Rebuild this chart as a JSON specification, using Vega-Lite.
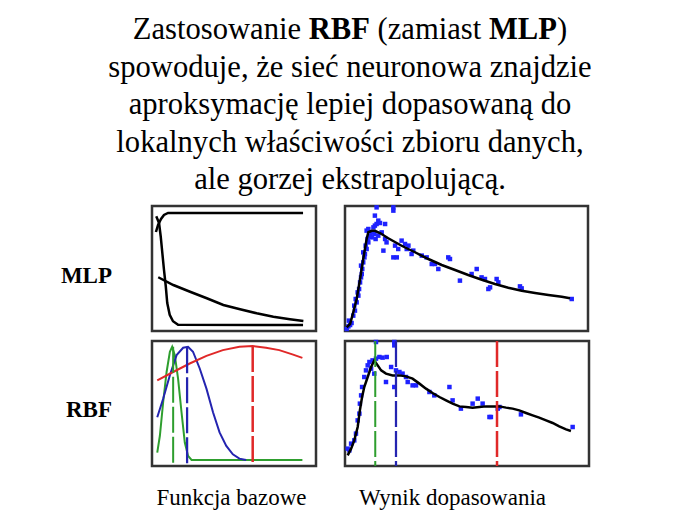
{
  "$schema": "https://vega.github.io/schema/vega-lite/v6.json",
  "padding": 0,
  "background": "white",
  "bounds": "flush",
  "columns": 3,
  "spacing": {"row": 10, "column": 29},
  "config": {"view": {"stroke": null}, "font": "Liberation Serif", "text": {"font": "Liberation Serif"}},
  "datasets": {
    "title": [
      {"line": 2, "text": "spowoduje, że sieć neuronowa znajdzie"},
      {"line": 3, "text": "aproksymację lepiej dopasowaną do"},
      {"line": 4, "text": "lokalnych właściwości zbioru danych,"},
      {"line": 5, "text": "ale gorzej ekstrapolującą."}
    ],
    "head": [
      {"line": 1, "part": "Zastosowanie"},
      {"line": 1, "part": "RBF"},
      {"line": 1, "part": "(zamiast"},
      {"line": 1, "part": "MLP"},
      {"line": 1, "part": ")"}
    ],
    "tl": [
      {"curve": "a", "x": 2.4, "y": 79.2}, {"curve": "a", "x": 3.7, "y": 84.8}, {"curve": "a", "x": 5.5, "y": 89.6}, {"curve": "a", "x": 7.3, "y": 92.8}, {"curve": "a", "x": 9.8, "y": 94.4}, {"curve": "a", "x": 92.1, "y": 94.4},
      {"curve": "b", "x": 2.6, "y": 91.8}, {"curve": "b", "x": 4.3, "y": 86.4}, {"curve": "b", "x": 5.3, "y": 75.8}, {"curve": "b", "x": 6.3, "y": 62.4}, {"curve": "b", "x": 7.3, "y": 49.0}, {"curve": "b", "x": 8.4, "y": 35.8}, {"curve": "b", "x": 9.3, "y": 22.4}, {"curve": "b", "x": 10.8, "y": 13.0}, {"curve": "b", "x": 12.8, "y": 7.8}, {"curve": "b", "x": 15.9, "y": 5.0}, {"curve": "b", "x": 92.1, "y": 4.8},
      {"curve": "c", "x": 3.8, "y": 43.0}, {"curve": "c", "x": 13.0, "y": 36.8}, {"curve": "c", "x": 23.2, "y": 31.4}, {"curve": "c", "x": 33.4, "y": 26.2}, {"curve": "c", "x": 43.5, "y": 20.8}, {"curve": "c", "x": 53.7, "y": 17.4}, {"curve": "c", "x": 63.8, "y": 14.2}, {"curve": "c", "x": 74.0, "y": 11.4}, {"curve": "c", "x": 84.1, "y": 9.4}, {"curve": "c", "x": 92.3, "y": 8.0}
    ],
    "bl": [
      {"series": "g", "x": 3.2, "y": 10.7}, {"series": "g", "x": 4.8, "y": 24.2}, {"series": "g", "x": 6.8, "y": 51.0}, {"series": "g", "x": 8.9, "y": 75.2}, {"series": "g", "x": 10.9, "y": 91.4}, {"series": "g", "x": 12.3, "y": 95.4}, {"series": "g", "x": 13.9, "y": 88.7}, {"series": "g", "x": 15.9, "y": 69.9}, {"series": "g", "x": 18.0, "y": 43.0}, {"series": "g", "x": 20.0, "y": 18.8}, {"series": "g", "x": 22.0, "y": 8.1}, {"series": "g", "x": 24.1, "y": 4.8}, {"series": "g", "x": 91.7, "y": 4.8},
      {"series": "b", "x": 3.2, "y": 39.0}, {"series": "b", "x": 6.8, "y": 53.8}, {"series": "b", "x": 10.9, "y": 72.6}, {"series": "b", "x": 15.0, "y": 88.7}, {"series": "b", "x": 19.0, "y": 94.6}, {"series": "b", "x": 22.0, "y": 95.4}, {"series": "b", "x": 25.0, "y": 91.4}, {"series": "b", "x": 29.1, "y": 78.0}, {"series": "b", "x": 33.2, "y": 61.9}, {"series": "b", "x": 37.2, "y": 43.0}, {"series": "b", "x": 41.2, "y": 26.9}, {"series": "b", "x": 45.3, "y": 16.1}, {"series": "b", "x": 49.3, "y": 9.4}, {"series": "b", "x": 53.3, "y": 5.9}, {"series": "b", "x": 57.4, "y": 4.8},
      {"series": "r", "x": 3.2, "y": 68.5}, {"series": "r", "x": 12.9, "y": 75.2}, {"series": "r", "x": 23.0, "y": 82.0}, {"series": "r", "x": 33.2, "y": 88.1}, {"series": "r", "x": 43.2, "y": 92.7}, {"series": "r", "x": 53.3, "y": 95.4}, {"series": "r", "x": 61.4, "y": 96.0}, {"series": "r", "x": 69.5, "y": 94.6}, {"series": "r", "x": 77.6, "y": 92.7}, {"series": "r", "x": 85.6, "y": 89.3}, {"series": "r", "x": 91.7, "y": 86.5}
    ],
    "bl_centres": [
      {"series": "g", "x": 12.9, "top": 95.4, "bottom": 0},
      {"series": "b", "x": 21.4, "top": 95.0, "bottom": 0},
      {"series": "r", "x": 61.4, "top": 96.0, "bottom": 0}
    ],
    "tr_fit": [
      {"x": 0.7, "y": 3.0}, {"x": 2.1, "y": 5.6}, {"x": 3.4, "y": 15.0}, {"x": 4.8, "y": 25.6}, {"x": 6.2, "y": 41.6}, {"x": 7.5, "y": 57.6}, {"x": 8.9, "y": 73.6}, {"x": 9.6, "y": 79.0}, {"x": 11.0, "y": 80.2}, {"x": 12.3, "y": 80.2}, {"x": 14.4, "y": 78.4}, {"x": 17.8, "y": 74.2}, {"x": 23.3, "y": 68.2}, {"x": 28.8, "y": 63.0}, {"x": 34.3, "y": 57.6}, {"x": 39.8, "y": 52.8}, {"x": 45.3, "y": 48.8}, {"x": 50.7, "y": 44.8}, {"x": 56.3, "y": 41.0}, {"x": 61.7, "y": 37.6}, {"x": 67.2, "y": 34.6}, {"x": 72.7, "y": 32.2}, {"x": 78.2, "y": 30.4}, {"x": 83.7, "y": 28.8}, {"x": 89.2, "y": 27.4}, {"x": 92.6, "y": 26.2}
    ],
    "tr_pts": [
      {"x": 0.7, "y": 1.6}, {"x": 1.4, "y": 3.7}, {"x": 2.1, "y": 4.8}, {"x": 2.7, "y": 6.4}, {"x": 1.6, "y": 8.3}, {"x": 3.4, "y": 12.3}, {"x": 4.1, "y": 16.3}, {"x": 3.8, "y": 20.3}, {"x": 4.8, "y": 22.9}, {"x": 4.4, "y": 25.6}, {"x": 5.5, "y": 28.3}, {"x": 5.2, "y": 30.9}, {"x": 5.8, "y": 33.6}, {"x": 6.2, "y": 38.9}, {"x": 6.6, "y": 42.9}, {"x": 6.9, "y": 45.6}, {"x": 7.1, "y": 49.6}, {"x": 6.6, "y": 52.3}, {"x": 7.5, "y": 54.9}, {"x": 8.0, "y": 58.9}, {"x": 8.2, "y": 61.6}, {"x": 7.5, "y": 62.9}, {"x": 8.9, "y": 65.6}, {"x": 8.5, "y": 68.3}, {"x": 9.6, "y": 70.9}, {"x": 9.3, "y": 73.6}, {"x": 10.3, "y": 76.3}, {"x": 11.0, "y": 78.9}, {"x": 8.9, "y": 80.3}, {"x": 9.6, "y": 81.6}, {"x": 11.7, "y": 82.9}, {"x": 12.3, "y": 84.3}, {"x": 13.0, "y": 85.6}, {"x": 14.4, "y": 86.4}, {"x": 16.5, "y": 85.6}, {"x": 13.7, "y": 88.3}, {"x": 12.3, "y": 92.3}, {"x": 13.0, "y": 98.9}, {"x": 19.9, "y": 98.9}, {"x": 19.9, "y": 96.3}, {"x": 11.0, "y": 74.9}, {"x": 12.1, "y": 77.6}, {"x": 12.6, "y": 73.6}, {"x": 13.7, "y": 76.3}, {"x": 15.1, "y": 78.9}, {"x": 16.5, "y": 73.6}, {"x": 17.1, "y": 70.9}, {"x": 15.8, "y": 64.3}, {"x": 19.9, "y": 58.9}, {"x": 21.3, "y": 58.9}, {"x": 20.6, "y": 68.3}, {"x": 21.9, "y": 65.6}, {"x": 23.3, "y": 72.3}, {"x": 24.7, "y": 69.6}, {"x": 26.1, "y": 68.3}, {"x": 25.4, "y": 65.6}, {"x": 27.4, "y": 61.6}, {"x": 28.1, "y": 64.3}, {"x": 31.6, "y": 60.3}, {"x": 33.6, "y": 58.9}, {"x": 35.7, "y": 53.6}, {"x": 37.0, "y": 53.6}, {"x": 38.4, "y": 49.6}, {"x": 42.5, "y": 58.9}, {"x": 43.2, "y": 57.6}, {"x": 47.3, "y": 40.3}, {"x": 52.1, "y": 45.6}, {"x": 54.2, "y": 49.6}, {"x": 56.2, "y": 42.9}, {"x": 57.6, "y": 41.6}, {"x": 59.0, "y": 33.6}, {"x": 59.7, "y": 34.9}, {"x": 62.4, "y": 41.6}, {"x": 63.1, "y": 38.9}, {"x": 72.0, "y": 35.7}, {"x": 72.7, "y": 34.1}, {"x": 93.3, "y": 25.6}
    ],
    "br_fit": [
      {"x": 1.1, "y": 8.5}, {"x": 2.5, "y": 13.9}, {"x": 3.8, "y": 20.5}, {"x": 5.2, "y": 31.2}, {"x": 6.1, "y": 44.5}, {"x": 7.0, "y": 55.2}, {"x": 7.9, "y": 63.2}, {"x": 9.3, "y": 71.2}, {"x": 10.7, "y": 79.2}, {"x": 12.0, "y": 84.5}, {"x": 13.4, "y": 80.5}, {"x": 14.8, "y": 76.5}, {"x": 16.8, "y": 73.9}, {"x": 19.5, "y": 72.5}, {"x": 22.3, "y": 72.5}, {"x": 25.0, "y": 71.7}, {"x": 27.7, "y": 69.9}, {"x": 30.5, "y": 65.9}, {"x": 33.2, "y": 61.9}, {"x": 35.9, "y": 58.4}, {"x": 38.7, "y": 55.2}, {"x": 41.4, "y": 52.5}, {"x": 44.1, "y": 49.9}, {"x": 46.9, "y": 47.7}, {"x": 49.6, "y": 47.2}, {"x": 52.3, "y": 46.7}, {"x": 55.1, "y": 47.2}, {"x": 57.8, "y": 47.7}, {"x": 60.5, "y": 47.7}, {"x": 63.3, "y": 47.7}, {"x": 66.0, "y": 46.7}, {"x": 68.7, "y": 45.9}, {"x": 71.4, "y": 44.5}, {"x": 74.2, "y": 42.4}, {"x": 76.9, "y": 40.5}, {"x": 79.6, "y": 38.7}, {"x": 82.4, "y": 36.5}, {"x": 85.1, "y": 34.4}, {"x": 87.8, "y": 31.7}, {"x": 90.6, "y": 29.3}, {"x": 92.6, "y": 28.0}
    ],
    "br_pts": [
      {"x": 1.1, "y": 13.9}, {"x": 1.8, "y": 12.5}, {"x": 2.5, "y": 17.9}, {"x": 3.8, "y": 20.5}, {"x": 4.5, "y": 25.9}, {"x": 5.2, "y": 36.5}, {"x": 5.9, "y": 41.9}, {"x": 6.1, "y": 49.9}, {"x": 6.6, "y": 56.5}, {"x": 7.0, "y": 63.2}, {"x": 7.9, "y": 71.2}, {"x": 8.6, "y": 76.5}, {"x": 9.3, "y": 80.5}, {"x": 10.0, "y": 83.2}, {"x": 11.3, "y": 84.5}, {"x": 12.7, "y": 85.9}, {"x": 14.1, "y": 87.2}, {"x": 15.4, "y": 86.7}, {"x": 17.1, "y": 87.2}, {"x": 12.7, "y": 99.2}, {"x": 20.2, "y": 99.2}, {"x": 20.2, "y": 96.5}, {"x": 10.7, "y": 77.9}, {"x": 12.0, "y": 73.9}, {"x": 18.9, "y": 79.2}, {"x": 20.9, "y": 76.5}, {"x": 22.3, "y": 75.2}, {"x": 23.6, "y": 73.9}, {"x": 25.0, "y": 71.2}, {"x": 25.7, "y": 67.2}, {"x": 27.7, "y": 64.5}, {"x": 29.1, "y": 64.5}, {"x": 16.8, "y": 67.2}, {"x": 20.2, "y": 63.2}, {"x": 34.6, "y": 59.2}, {"x": 36.6, "y": 56.5}, {"x": 42.8, "y": 63.2}, {"x": 44.1, "y": 52.5}, {"x": 47.5, "y": 45.9}, {"x": 52.3, "y": 49.9}, {"x": 54.4, "y": 53.9}, {"x": 56.4, "y": 49.9}, {"x": 59.2, "y": 39.2}, {"x": 59.8, "y": 39.2}, {"x": 62.6, "y": 45.9}, {"x": 63.3, "y": 47.2}, {"x": 72.1, "y": 41.3}, {"x": 93.3, "y": 31.2}
    ],
    "br_centres": [
      {"series": "g", "x": 12.4, "top": 100, "bottom": 0},
      {"series": "b", "x": 20.9, "top": 100, "bottom": 0},
      {"series": "r", "x": 62.3, "top": 100, "bottom": 0}
    ]
  },
  "concat": [
    {
      "width": 123, "height": 196,
      "layer": [
        {"data": {"name": "title"}, "mark": {"type": "text", "font": "Liberation Serif", "align": "center", "baseline": "alphabetic", "fontSize": 30.6, "color": "black", "x": 350},
         "encoding": {"y": {"field": "line", "type": "ordinal", "scale": {"type": "point", "domain": [1, 2, 3, 4, 5], "range": [39, 189], "padding": 0}, "axis": null}, "text": {"field": "text"}}},
        {"data": {"name": "head"}, "transform": [{"filter": "datum.part === 'Zastosowanie'"}], "mark": {"type": "text", "font": "Liberation Serif", "align": "left", "baseline": "alphabetic", "fontSize": 30.6, "x": 132.8, "y": 39, "color": "black"}, "encoding": {"text": {"field": "part"}}},
        {"data": {"name": "head"}, "transform": [{"filter": "datum.part === 'RBF'"}], "mark": {"type": "text", "font": "Liberation Serif", "align": "left", "baseline": "alphabetic", "fontSize": 30.6, "fontWeight": "bold", "x": 308.7, "y": 39, "color": "black"}, "encoding": {"text": {"field": "part"}}},
        {"data": {"name": "head"}, "transform": [{"filter": "datum.part === '(zamiast'"}], "mark": {"type": "text", "font": "Liberation Serif", "align": "left", "baseline": "alphabetic", "fontSize": 30.6, "x": 377.6, "y": 39, "color": "black"}, "encoding": {"text": {"field": "part"}}},
        {"data": {"name": "head"}, "transform": [{"filter": "datum.part === 'MLP'"}], "mark": {"type": "text", "font": "Liberation Serif", "align": "left", "baseline": "alphabetic", "fontSize": 30.6, "fontWeight": "bold", "x": 488.9, "y": 39, "color": "black"}, "encoding": {"text": {"field": "part"}}},
        {"data": {"name": "head"}, "transform": [{"filter": "datum.part === ')'"}], "mark": {"type": "text", "font": "Liberation Serif", "align": "left", "baseline": "alphabetic", "fontSize": 30.6, "x": 556.9, "y": 39, "color": "black"}, "encoding": {"text": {"field": "part"}}}
      ]
    },
    {"width": 164, "height": 196, "data": {"values": [{"blank": ""}]}, "mark": {"type": "text", "opacity": 0}, "encoding": {"text": {"field": "blank"}}},
    {"width": 244, "height": 196, "data": {"values": [{"blank": ""}]}, "mark": {"type": "text", "opacity": 0}, "encoding": {"text": {"field": "blank"}}},
    {
      "width": 123, "height": 125,
      "data": {"values": [{"label": "MLP"}]},
      "mark": {"type": "text", "font": "Liberation Serif", "align": "right", "baseline": "alphabetic", "fontSize": 23, "fontWeight": "bold", "color": "black", "x": 112, "y": 76.7},
      "encoding": {"text": {"field": "label"}}
    },
    {
      "width": 164, "height": 125,
      "view": {"stroke": "#333333", "strokeWidth": 2.5},
      "data": {"name": "tl"},
      "mark": {"type": "line", "color": "black", "strokeWidth": 2.5},
      "encoding": {
        "x": {"field": "x", "type": "quantitative", "scale": {"domain": [0, 100], "nice": false, "zero": false}, "axis": null},
        "y": {"field": "y", "type": "quantitative", "scale": {"domain": [0, 100], "nice": false, "zero": false}, "axis": null},
        "detail": {"field": "curve"}
      }
    },
    {
      "width": 243, "height": 125,
      "view": {"stroke": "#333333", "strokeWidth": 2.5},
      "encoding": {
        "x": {"field": "x", "type": "quantitative", "scale": {"domain": [0, 100], "nice": false, "zero": false}, "axis": null},
        "y": {"field": "y", "type": "quantitative", "scale": {"domain": [0, 100], "nice": false, "zero": false}, "axis": null}
      },
      "layer": [
        {"data": {"name": "tr_pts"}, "mark": {"type": "square", "filled": true, "size": 20, "color": "#1e22ff", "opacity": 1}},
        {"data": {"name": "tr_fit"}, "mark": {"type": "line", "color": "black", "strokeWidth": 2.5}}
      ]
    },
    {
      "width": 123, "height": 125,
      "data": {"values": [{"label": "RBF"}]},
      "mark": {"type": "text", "font": "Liberation Serif", "align": "right", "baseline": "alphabetic", "fontSize": 23, "fontWeight": "bold", "color": "black", "x": 112, "y": 75.7},
      "encoding": {"text": {"field": "label"}}
    },
    {
      "width": 164, "height": 125,
      "view": {"stroke": "#333333", "strokeWidth": 2.5},
      "layer": [
        {
          "data": {"name": "bl"},
          "mark": {"type": "line", "strokeWidth": 2},
          "encoding": {
            "x": {"field": "x", "type": "quantitative", "scale": {"domain": [0, 100], "nice": false, "zero": false}, "axis": null},
            "y": {"field": "y", "type": "quantitative", "scale": {"domain": [0, 100], "nice": false, "zero": false}, "axis": null},
            "color": {"field": "series", "type": "nominal", "scale": {"domain": ["g", "b", "r"], "range": ["#2e9e2e", "#2424b0", "#e02828"]}, "legend": null}
          }
        },
        {
          "data": {"name": "bl_centres"},
          "mark": {"type": "rule", "strokeDash": [26, 4]},
          "encoding": {
            "x": {"field": "x", "type": "quantitative", "scale": {"domain": [0, 100], "nice": false, "zero": false}, "axis": null},
            "y": {"field": "top", "type": "quantitative", "scale": {"domain": [0, 100], "nice": false, "zero": false}, "axis": null},
            "y2": {"field": "bottom"},
            "color": {"field": "series", "type": "nominal", "scale": {"domain": ["g", "b", "r"], "range": ["#2e9e2e", "#2424b0", "#e02828"]}, "legend": null},
            "strokeWidth": {"field": "series", "type": "nominal", "scale": {"domain": ["g", "b", "r"], "range": [2, 2.5, 3]}, "legend": null}
          }
        }
      ]
    },
    {
      "width": 244, "height": 125,
      "view": {"stroke": "#333333", "strokeWidth": 2.5},
      "layer": [
        {
          "data": {"name": "br_pts"},
          "mark": {"type": "square", "filled": true, "size": 20, "color": "#1e22ff", "opacity": 1},
          "encoding": {
            "x": {"field": "x", "type": "quantitative", "scale": {"domain": [0, 100], "nice": false, "zero": false}, "axis": null},
            "y": {"field": "y", "type": "quantitative", "scale": {"domain": [0, 100], "nice": false, "zero": false}, "axis": null}
          }
        },
        {
          "data": {"name": "br_fit"},
          "mark": {"type": "line", "color": "black", "strokeWidth": 2.5},
          "encoding": {
            "x": {"field": "x", "type": "quantitative", "scale": {"domain": [0, 100], "nice": false, "zero": false}, "axis": null},
            "y": {"field": "y", "type": "quantitative", "scale": {"domain": [0, 100], "nice": false, "zero": false}, "axis": null}
          }
        },
        {
          "data": {"name": "br_centres"},
          "mark": {"type": "rule", "strokeDash": [26, 4]},
          "encoding": {
            "x": {"field": "x", "type": "quantitative", "scale": {"domain": [0, 100], "nice": false, "zero": false}, "axis": null},
            "y": {"field": "top", "type": "quantitative", "scale": {"domain": [0, 100], "nice": false, "zero": false}, "axis": null},
            "y2": {"field": "bottom"},
            "color": {"field": "series", "type": "nominal", "scale": {"domain": ["g", "b", "r"], "range": ["#3aa83a", "#1c1c8a", "#e03a3a"]}, "legend": null},
            "strokeWidth": {"field": "series", "type": "nominal", "scale": {"domain": ["g", "b", "r"], "range": [2, 5, 2.5]}, "legend": null}
          }
        }
      ]
    },
    {
      "width": 123, "height": 49,
      "layer": [
        {"data": {"values": [{"label": "Funkcja bazowe"}]},
         "mark": {"type": "text", "font": "Liberation Serif", "align": "center", "baseline": "alphabetic", "fontSize": 23, "color": "black", "x": 231.5, "y": 29},
         "encoding": {"text": {"field": "label"}}},
        {"data": {"values": [{"label": "Wynik dopasowania"}]},
         "mark": {"type": "text", "font": "Liberation Serif", "align": "center", "baseline": "alphabetic", "fontSize": 23, "color": "black", "x": 452.5, "y": 29},
         "encoding": {"text": {"field": "label"}}}
      ]
    },
    {"width": 164, "height": 49, "data": {"values": [{"blank": ""}]}, "mark": {"type": "text", "opacity": 0}, "encoding": {"text": {"field": "blank"}}},
    {"width": 244, "height": 49, "data": {"values": [{"blank": ""}]}, "mark": {"type": "text", "opacity": 0}, "encoding": {"text": {"field": "blank"}}}
  ]
}
